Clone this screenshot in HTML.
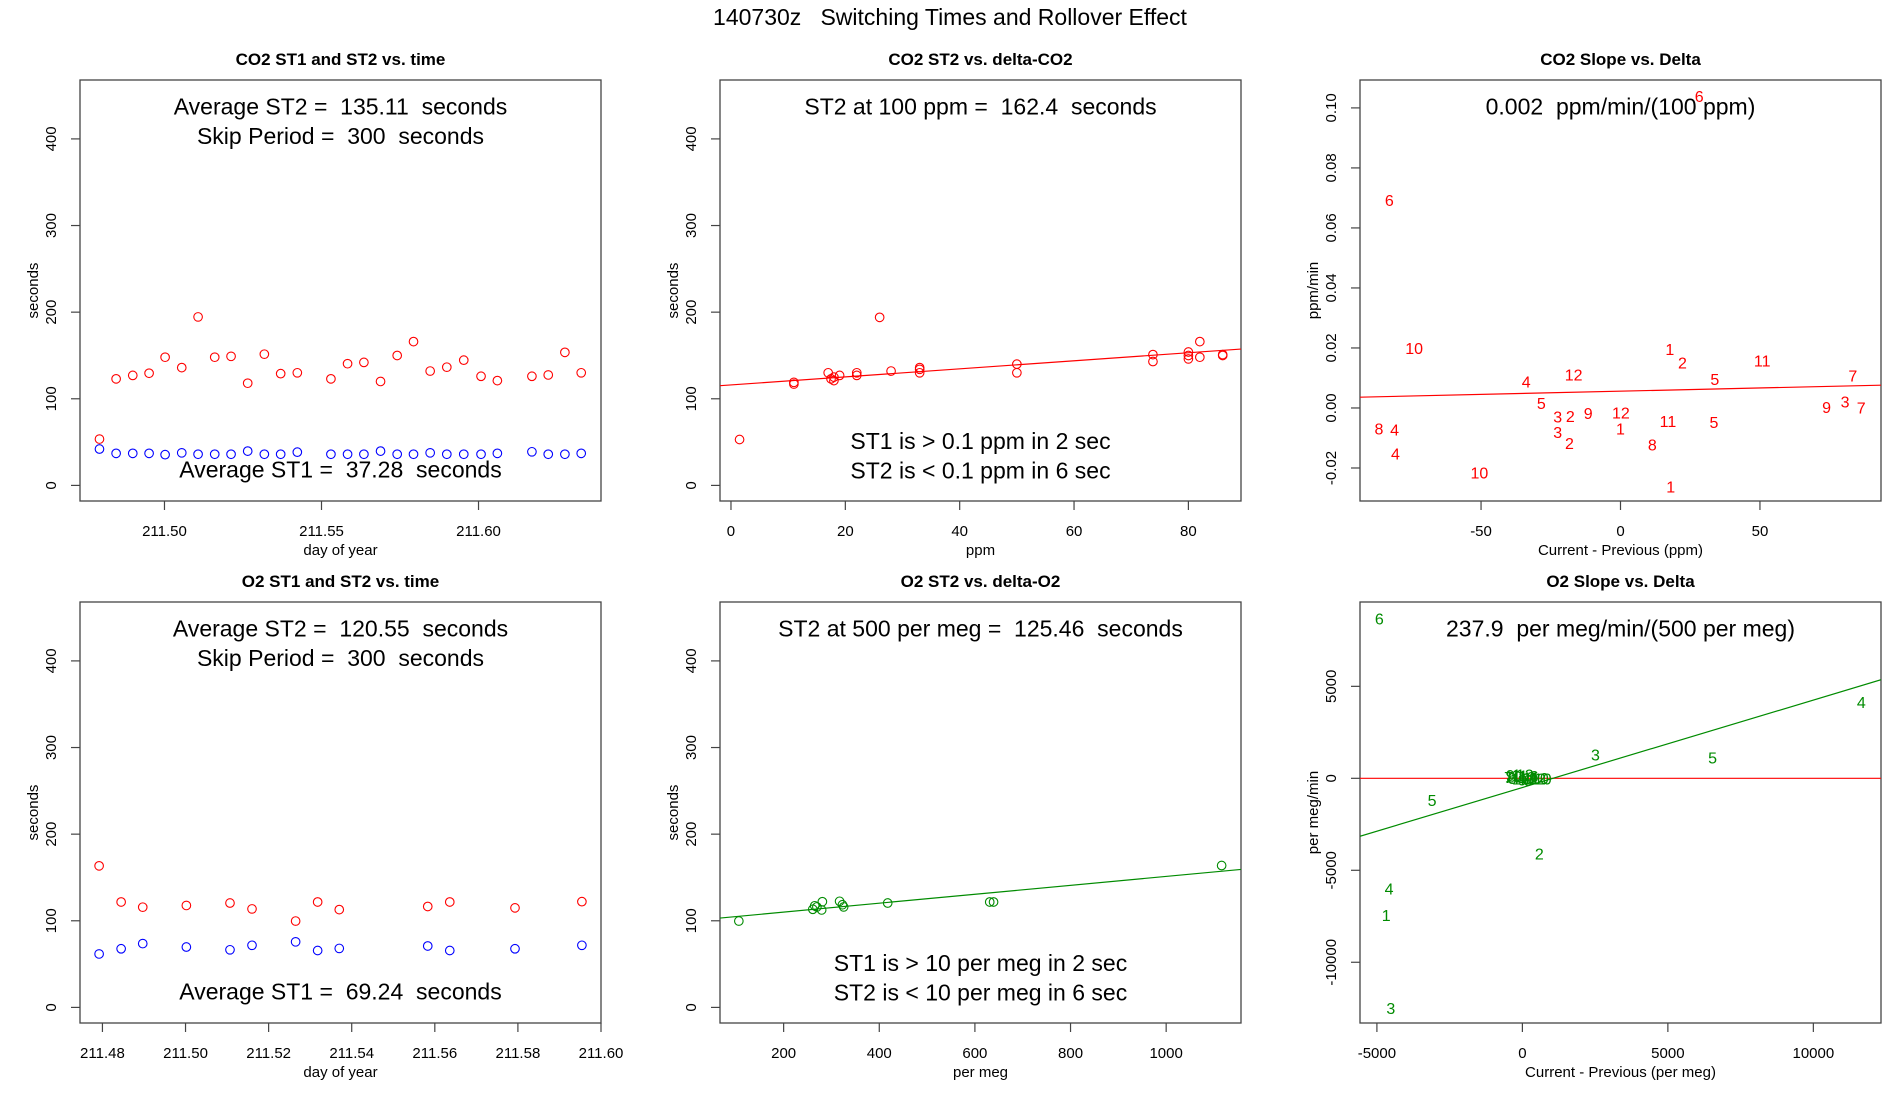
<!DOCTYPE html>
<html><head><meta charset="utf-8"><title>140730z Switching Times and Rollover Effect</title>
<style>
html,body{margin:0;padding:0;background:#fff;}
svg{display:block;font-family:"Liberation Sans",Arial,sans-serif;}
svg text{white-space:pre;}
</style></head>
<body>
<svg id="chart" xmlns="http://www.w3.org/2000/svg" xml:space="preserve" width="1900" height="1100" viewBox="0 0 1900 1100">
<rect x="0" y="0" width="1900" height="1100" fill="#fff"/>
<text x="950" y="25" font-size="23" text-anchor="middle" fill="#000">140730z   Switching Times and Rollover Effect</text>
</svg>
<script>
// ---------- data ----------
const co2Time = [211.4793,211.4846,211.4899,211.4951,211.5002,211.5055,211.5107,211.5160,211.5212,211.5265,211.5318,211.5370,211.5423,211.5530,211.5583,211.5635,211.5688,211.5741,211.5793,211.5846,211.5899,211.5953,211.6008,211.6060,211.6170,211.6222,211.6275,211.6327];
const co2ST2 = [53.5,123,127,129.5,148,136,194.5,148,149,118,151.5,129,130,123,140.5,142,120,150,166,132,136.5,144.6,126,121,126,127.5,153.6,130];
const co2ST1 = [42,37,37,37,35.5,37.6,36,36,36,39.6,36,36,38.4,36,36,36,39.6,36,36,37.6,36,36,36,37,38.8,36,36,37];
const co2Delta = [1.5,11,11,17,17.5,18,18,19,22,22,26,28,33,33,33,50,50,73.8,73.8,80,80,80,82,82,86,86];
const co2DeltaST2 = [53,119,117,130,123,125,121,127,127,130,194,132,130,136,134,140,130,143,151,150,146,154,166,148,150,151];
const co2FitIntercept = 116.0;
const co2FitSlope = 0.464;
const co2SlopeX = [28.2,-82.9,-74,17.7,22.2,50.8,-16.8,-33.8,33.8,83.3,-28.4,-22.5,-18,-11.6,0.15,17,33.5,0,-22.5,-18.3,11.4,-86.6,-81,-80.7,-50.6,18,73.9,80.5,86.3];
const co2SlopeY = [0.104,0.0693,0.020,0.0197,0.0152,0.0158,0.0111,0.0088,0.0096,0.0108,0.0017,-0.0029,-0.0026,-0.0016,-0.0015,-0.0043,-0.0046,-0.0068,-0.008,-0.0116,-0.0121,-0.0068,-0.0071,-0.0152,-0.0215,-0.0261,0.0004,0.0022,0.0001];
const co2SlopeLbl = ['6','6','10','1','2','11','12','4','5','7','5','3','2','9','12','11','5','1','3','2','8','8','4','4','10','1','9','3','7'];
const co2SlopeFitIntercept = 0.0056;
const co2SlopeFitSlope = 0.0000214;

const o2Time = [211.4792,211.4845,211.4897,211.5002,211.5107,211.5160,211.5265,211.5318,211.5370,211.5583,211.5636,211.5793,211.5954];
const o2ST2 = [163.4,121.7,115.7,117.7,120.5,113.7,99.7,121.7,112.9,116.5,121.7,114.9,122.1];
const o2ST1 = [61.7,67.7,73.7,69.7,66.5,71.7,75.7,65.7,68.1,70.9,65.7,67.7,71.7];
const o2Delta = [106.3,261,265,269.5,281,279.5,317,323,325.5,417.6,631,639,1116];
const o2DeltaST2 = [99.7,113.3,117.3,116,122,112.5,122.5,118.5,116,120.5,121.7,121.7,163.8];
const o2FitIntercept = 99.7;
const o2FitSlope = 0.05152;
const o2SlopeX = [-4915,11650,2510,6535,-3105,581,-4580,-4679,-4523,-480,-420,-350,-300,-200,-100,-50,0,80,150,200,300,400,500,600,700];
const o2SlopeY = [8679,4151,1283,1132,-1170,-4094,-6000,-7434,-12491,60,180,20,100,220,150,0,-60,200,60,-80,40,120,0,30,0];
const o2SlopeLbl = ['6','4','3','5','5','2','4','1','3','7','9','8','10','1','11','12','9','12','10','8','11','6','12','10','10'];
const o2SlopeFitIntercept = -499;
const o2SlopeFitSlope = 0.4752;

const secTicks = [0,100,200,300,400];
const co2TimeTicks = [211.50,211.55,211.60];
const co2TimeTickLbl = ['211.50','211.55','211.60'];
const o2TimeTicks = [211.48,211.50,211.52,211.54,211.56,211.58,211.60];
const o2TimeTickLbl = ['211.48','211.50','211.52','211.54','211.56','211.58','211.60'];
const ppmTicks = [0,20,40,60,80];
const perMegTicks = [200,400,600,800,1000];
const co2SlopeXTicks = [-50,0,50];
const co2SlopeYTicks = [-0.02,0,0.02,0.04,0.06,0.08,0.10];
const co2SlopeYTickLbl = ['-0.02','0.00','0.02','0.04','0.06','0.08','0.10'];
const o2SlopeXTicks = [-5000,0,5000,10000];
const o2SlopeYTicks = [-10000,-5000,0,5000];

// ---------- drawing ----------
const NS = 'http://www.w3.org/2000/svg';
const svg = document.getElementById('chart');
function mk(tag, attrs, parent){
  const el = document.createElementNS(NS, tag);
  for (const k in attrs) el.setAttribute(k, attrs[k]);
  (parent || svg).appendChild(el);
  return el;
}
function scale(d0,d1,r0,r1){ return v => r0 + (v-d0)/(d1-d0)*(r1-r0); }
const RED='#ff0000', BLUE='#0000ff', GREEN='#008b00';

function panel(o){
  const g = mk('g', {});
  
  
  const L=o.left, T=o.top, W=521, H=421, R=L+W, B=T+H;
  const sx = scale(o.xd[0],o.xd[1],L,R);
  const sy = scale(o.yd[0],o.yd[1],B,T);
  const title = mk('text',{x:L+W/2,y:T-15,'font-size':17,'font-weight':'bold','text-anchor':'middle'},g);
  title.textContent = o.title;
  
  
  const box = mk('rect',{x:L,y:T,width:W,height:H,fill:'none',stroke:'#444','stroke-width':1.3},g);
  
  
  o.yt.forEach((v,i)=>{
    const y=sy(v);
    const tk = mk('line',{x1:L,x2:L-9,y1:y,y2:y,stroke:'#444','stroke-width':1.2},g);
    
    
    const t = mk('text',{x:0,y:0,'font-size':15,'text-anchor':'middle',transform:`translate(${L-24},${y}) rotate(-90)`},g);
    t.textContent = o.ytl ? o.ytl[i] : String(v);
    
    
  });
  const yl = mk('text',{x:0,y:0,'font-size':15,'text-anchor':'middle',transform:`translate(${L-42},${T+H/2}) rotate(-90)`},g);
  yl.textContent = o.ylab;
  
  
  o.xt.forEach((v,i)=>{
    const x=sx(v);
    const tk = mk('line',{x1:x,x2:x,y1:B,y2:B+9,stroke:'#444','stroke-width':1.2},g);
    
    
    const t = mk('text',{x:x,y:B+35,'font-size':15,'text-anchor':'middle'},g);
    t.textContent = o.xtl ? o.xtl[i] : String(v);
    
    
  });
  const xl = mk('text',{x:L+W/2,y:B+54,'font-size':15,'text-anchor':'middle'},g);
  xl.textContent = o.xlab;
  
  
  const cid = 'clip-'+o.name;
  const cp = mk('clipPath',{id:cid},g);
  mk('rect',{x:L,y:T,width:W,height:H},cp);
  const inner = mk('g',{'clip-path':`url(#${cid})`},g);
  (o.lines||[]).forEach(ln=>{
    const x0=o.xd[0], x1=o.xd[1];
    const l = mk('line',{x1:sx(x0),y1:sy(ln.a+ln.b*x0),x2:sx(x1),y2:sy(ln.a+ln.b*x1),stroke:ln.c,'stroke-width':1.2},inner);
    
    
  });
  (o.pts||[]).forEach(s=>{
    s.x.forEach((xv,i)=>{
      const c = mk('circle',{cx:sx(xv),cy:sy(s.y[i]),r:4.3,fill:'none',stroke:s.c,'stroke-width':1.1},inner);
      
      
    });
  });
  (o.lbls||[]).forEach(s=>{
    s.x.forEach((xv,i)=>{
      const t = mk('text',{x:sx(xv),y:sy(s.y[i])+6,'font-size':16,'text-anchor':'middle',fill:s.c},inner);
      t.textContent = s.l[i];
      
      
    });
  });
  (o.notes||[]).forEach(n=>{
    const t = mk('text',{x:L+W/2,y:T+n[0]+8,'font-size':23,'text-anchor':'middle'},g);
    t.textContent = n[1];
    
    
  });
}

const secY=[-18,468];
panel({name:'co2-time-panel',left:80,top:80,title:'CO2 ST1 and ST2 vs. time',xd:[211.4731,211.639],yd:secY,
  xt:co2TimeTicks,xtl:co2TimeTickLbl,yt:secTicks,xlab:'day of year',ylab:'seconds',
  pts:[{x:co2Time,y:co2ST2,c:RED,n:'co2-st2-point'},{x:co2Time,y:co2ST1,c:BLUE,n:'co2-st1-point'}],
  notes:[[26.6,'Average ST2 =  135.11  seconds'],[56,'Skip Period =  300  seconds'],[389.5,'Average ST1 =  37.28  seconds']]});
panel({name:'co2-delta-panel',left:720,top:80,title:'CO2 ST2 vs. delta-CO2',xd:[-1.92,89.2],yd:secY,
  xt:ppmTicks,yt:secTicks,xlab:'ppm',ylab:'seconds',
  lines:[{a:co2FitIntercept,b:co2FitSlope,c:RED,n:'co2-fit-line'}],
  pts:[{x:co2Delta,y:co2DeltaST2,c:RED,n:'co2-delta-point'}],
  notes:[[26.6,'ST2 at 100 ppm =  162.4  seconds'],[361,'ST1 is > 0.1 ppm in 2 sec'],[390.5,'ST2 is < 0.1 ppm in 6 sec']]});
panel({name:'co2-slope-panel',left:1360,top:80,title:'CO2 Slope vs. Delta',xd:[-93.4,93.4],yd:[-0.031,0.1093],
  xt:co2SlopeXTicks,yt:co2SlopeYTicks,ytl:co2SlopeYTickLbl,xlab:'Current - Previous (ppm)',ylab:'ppm/min',
  lines:[{a:co2SlopeFitIntercept,b:co2SlopeFitSlope,c:RED,n:'co2-slope-fit-line'}],
  lbls:[{x:co2SlopeX,y:co2SlopeY,l:co2SlopeLbl,c:RED}],
  notes:[[26.6,'0.002  ppm/min/(100 ppm)']]});
panel({name:'o2-time-panel',left:80,top:602,title:'O2 ST1 and ST2 vs. time',xd:[211.4746,211.60],yd:secY,
  xt:o2TimeTicks,xtl:o2TimeTickLbl,yt:secTicks,xlab:'day of year',ylab:'seconds',
  pts:[{x:o2Time,y:o2ST2,c:RED,n:'o2-st2-point'},{x:o2Time,y:o2ST1,c:BLUE,n:'o2-st1-point'}],
  notes:[[26.6,'Average ST2 =  120.55  seconds'],[56,'Skip Period =  300  seconds'],[389.5,'Average ST1 =  69.24  seconds']]});
panel({name:'o2-delta-panel',left:720,top:602,title:'O2 ST2 vs. delta-O2',xd:[66.9,1156.5],yd:secY,
  xt:perMegTicks,yt:secTicks,xlab:'per meg',ylab:'seconds',
  lines:[{a:o2FitIntercept,b:o2FitSlope,c:GREEN,n:'o2-fit-line'}],
  pts:[{x:o2Delta,y:o2DeltaST2,c:GREEN,n:'o2-delta-point'}],
  notes:[[26.6,'ST2 at 500 per meg =  125.46  seconds'],[361,'ST1 is > 10 per meg in 2 sec'],[390.5,'ST2 is < 10 per meg in 6 sec']]});
panel({name:'o2-slope-panel',left:1360,top:602,title:'O2 Slope vs. Delta',xd:[-5581,12325],yd:[-13302,9585],
  xt:o2SlopeXTicks,yt:o2SlopeYTicks,xlab:'Current - Previous (per meg)',ylab:'per meg/min',
  lines:[{a:0,b:0,c:RED,n:'zero-line'},{a:o2SlopeFitIntercept,b:o2SlopeFitSlope,c:GREEN,n:'o2-slope-fit-line'}],
  lbls:[{x:o2SlopeX,y:o2SlopeY,l:o2SlopeLbl,c:GREEN}],
  notes:[[26.6,'237.9  per meg/min/(500 per meg)']]});
</script>
</body></html>
